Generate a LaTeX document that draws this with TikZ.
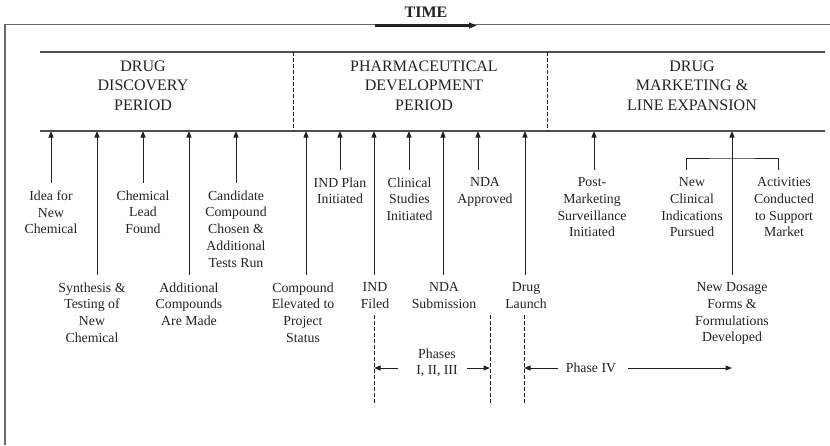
\documentclass[tikz,border=0pt]{standalone}
\usepackage{fontspec}
\setmainfont{Liberation Serif}
\usetikzlibrary{arrows.meta, positioning, calc}
\usepackage{xcolor}
\definecolor{cInk}{HTML}{222222}
\definecolor{cRule}{HTML}{505050}
\definecolor{cFrame}{HTML}{6A6A6A}

\begin{document}
\begin{tikzpicture}[
    x=1pt, y=-1pt,
    >={Triangle[length=6.5pt, width=5pt]},
    rule/.style={draw=cRule, line width=1.3pt},
    frame/.style={draw=cFrame, line width=1.6pt},
    divider/.style={draw=cInk, line width=0.7pt, dash pattern=on 3.5pt off 2.5pt},
    arr/.style={->, draw=cInk, line width=1pt},
    lbl/.style={anchor=north, align=center, text=cInk, inner xsep=0pt,
                inner ysep=7.5pt, font=\fontsize{13.8}{16.7}\selectfont},
    hdr/.style={anchor=north, align=center, text=cInk, inner sep=0pt,
                font=\fontsize{16}{19.2}\selectfont},
]
\useasboundingbox (0,0) rectangle (830,445);

% ================================================================
%  Frame + TIME arrow
% ================================================================

\draw[frame] (5,445) |- (830,24.5);

\node[anchor=base, text=cInk, inner sep=0pt,
      font=\fontsize{16}{19}\selectfont\bfseries] (time) at (426,17) {TIME};

\coordinate (tA) at (375,25.5);
\coordinate (tB) at (477,25.5);
\draw[-{Triangle[length=8pt, width=5.5pt]}, draw=cInk, line width=2.2pt] (tA) -- (tB);

% ================================================================
%  Period band
% ================================================================

\coordinate (upL)  at (40,52);
\coordinate (upR)  at (825,52);
\coordinate (lowL) at (40,131);
\coordinate (lowR) at (825,131);

\draw[rule] (upL) -- (upR);
\draw[rule] (lowL) -- (lowR);

\draw[divider] (upL -| 293,0) -- (lowL -| 293,0);
\draw[divider] (upL -| 547,0) -- (lowL -| 547,0);

\node[hdr] (discovery) at (143,61) {DRUG\\DISCOVERY\\PERIOD};
\node[hdr] (develop)   at (424,61) {PHARMACEUTICAL\\DEVELOPMENT\\PERIOD};
\node[hdr] (market)    at (692,61) {DRUG\\MARKETING \&\\LINE EXPANSION};

% ================================================================
%  Milestones (short arrows)
% ================================================================

\node[lbl] (idea) at (51,183)  {Idea for\\New\\Chemical};
\node[lbl] (lead) at (143,183) {Chemical\\Lead\\Found};
\node[lbl] (cand) at (236,183) {Candidate\\Compound\\Chosen \&\\Additional\\Tests Run};

\node[lbl] (indp) at (340,170)   {IND Plan\\Initiated};
\node[lbl] (clin) at (409.5,170) {Clinical\\Studies\\Initiated};
\node[lbl] (ndaa) at (485,170)   {NDA\\Approved};
\node[lbl] (post) at (592,170)   {Post-\\Marketing\\Surveillance\\Initiated};
\node[lbl] (ncl)  at (692,170)   {New\\Clinical\\Indications\\Pursued};
\node[lbl] (act)  at (784,170)   {Activities\\Conducted\\to Support\\Market};

% ================================================================
%  Milestones (long arrows)
% ================================================================

\node[lbl] (synth)  at (92,275)  {Synthesis \&\\Testing of\\New\\Chemical};
\node[lbl] (addc)   at (189,275) {Additional\\Compounds\\Are Made};
\node[lbl] (elev)   at (303,275) {Compound\\Elevated to\\Project\\Status};
\node[lbl] (indf)   at (375,275) {IND\\Filed};
\node[lbl] (ndas)   at (444,275) {NDA\\Submission};
\node[lbl] (launch) at (526,275) {Drug\\Launch};
\node[lbl] (dosage) at (732,275) {New Dosage\\Forms \&\\Formulations\\Developed};

% arrows up to the time line
\foreach \n/\dx in {idea/0, lead/0, cand/0, indp/0, clin/-0.5, ndaa/-7,
                    post/2, synth/5, addc/0, elev/3, indf/-1, ndas/-1,
                    launch/-1, dosage/0}
    \draw[arr] ([xshift=\dx pt]\n.north) -- ([xshift=\dx pt]\n.north |- lowL);

% bracket joining the two market activities
\coordinate (brk) at (732,158);
\draw[draw=cInk, line width=1pt] ([xshift=-6pt]ncl.north) |- (brk) -| ([xshift=-6pt]act.north);

% ================================================================
%  Phases
% ================================================================

\coordinate (bInd) at (374,315);
\coordinate (bNda) at (490,315);
\coordinate (bLau) at (524,315);

\draw[divider] (bInd) -- ++(0,90);
\draw[divider] (bNda) -- ++(0,90);
\draw[divider] (bLau) -- ++(0,90);

\node[anchor=north, align=center, text=cInk, inner sep=0pt,
      font=\fontsize{13.8}{16.2}\selectfont] (phI) at (437,349) {Phases\\I, II, III};
\node[anchor=base, text=cInk, inner sep=0pt,
      font=\fontsize{13.8}{16.7}\selectfont] (phIV) at (591,372) {Phase IV};

\coordinate (pA) at (398,368);
\coordinate (pB) at (467,368);
\coordinate (pC) at (558,368);
\coordinate (pD) at (628,368);
\coordinate (pE) at (732,368);

\draw[arr] (pA) -- (pA -| bInd);
\draw[arr] (pB) -- (pB -| bNda);
\draw[arr] (pC) -- (pC -| bLau);
\draw[arr] (pD) -- (pE);

\end{tikzpicture}
\end{document}
